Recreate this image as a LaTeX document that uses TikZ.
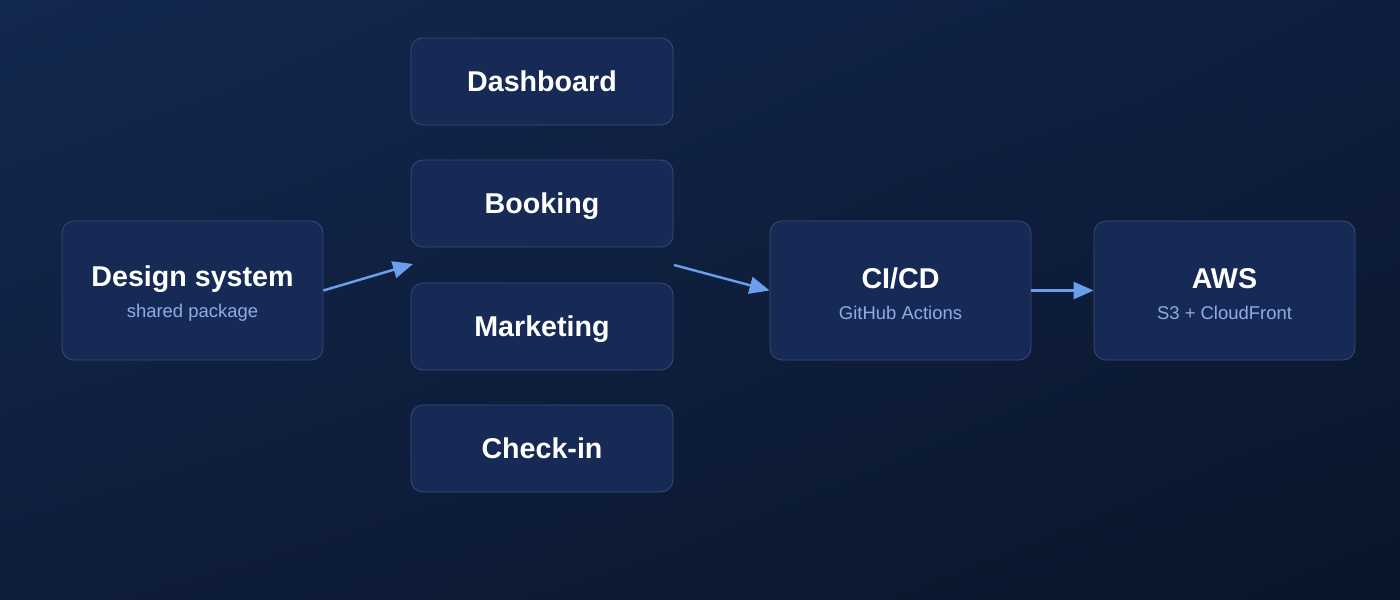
\documentclass[tikz,border=0pt]{standalone}
\usepackage{fontspec}
\setmainfont{Liberation Sans}
\usetikzlibrary{arrows.meta,shadings}

\definecolor{bgul}{HTML}{13284F}
\definecolor{bgur}{HTML}{0E1E3F}
\definecolor{bgll}{HTML}{0E1D3B}
\definecolor{bglr}{HTML}{0A1629}
\definecolor{boxfill}{HTML}{172A55}
\definecolor{boxline}{HTML}{364C78}
\definecolor{flow}{HTML}{6B9EEB}
\definecolor{subtext}{HTML}{8DAEE3}

\newcommand{\boxtitle}{\fontsize{16.3}{20}\selectfont\bfseries}
\newcommand{\boxsub}{\fontsize{10.5}{13}\selectfont\color{subtext}}
\newcommand{\titlestrut}{\rule{0pt}{15.5pt}}

\begin{document}
\begin{tikzpicture}[x=0.2mm,y=-0.2mm,
	card/.style={draw=boxline, line width=0.45pt, fill=boxfill, rounded corners=2.4mm,
		minimum width=52.2mm, minimum height=27.8mm, align=center, text=white},
	appcard/.style={card, minimum width=52.4mm, minimum height=17.4mm, text depth=0pt},
	flowarrow/.style={draw=flow, line width=1.4pt, -{Triangle[length=4mm,width=3.4mm]}}]
	% Hintergrund
	\useasboundingbox (0,0) rectangle (1400,600);
	\shade[upper left=bgul, upper right=bgur, lower left=bgll, lower right=bglr] (0,0) rectangle (1400,600);
	
	% Design system
	\node[card] (design) at (192.5,290.5) {\boxtitle\titlestrut Design system\\[5.5pt]\boxsub shared package};
	
	% Apps
	\node[appcard] (dashboard) at (542,81.5) {\boxtitle Dashboard};
	\node[appcard] (booking) at (542,203.5) {\boxtitle Booking};
	\node[appcard] (marketing) at (542,326.5) {\boxtitle Marketing};
	\node[appcard] (checkin) at (542,448.5) {\boxtitle Check-in};
	\coordinate (appsin) at (413,264);  % Eingang der Apps
	\coordinate (appsout) at (674,265);  % Ausgang der Apps
	
	% CI/CD und AWS
	\node[card] (cicd) at (900.5,290.5) {\boxtitle\titlestrut CI/CD\\[5.5pt]\boxsub GitHub Actions};
	\node[card] (aws) at (1224.5,290.5) {\boxtitle\titlestrut AWS\\[5.5pt]\boxsub S3 + CloudFront};
	
	% Pfeile
	\draw[flowarrow] (design.east) -- (appsin);
	\draw[flowarrow] (appsout) -- (cicd.west);
	\draw[flowarrow] (cicd.east) -- (aws.west);
\end{tikzpicture}
\end{document}
